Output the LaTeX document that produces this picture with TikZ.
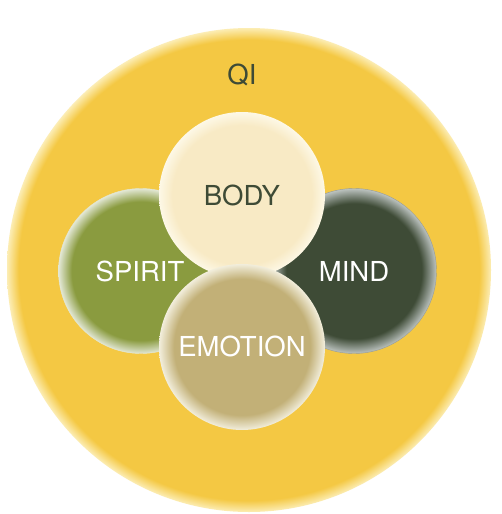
\documentclass[tikz,border=0pt]{standalone}
\usepackage{fontspec}
\setmainfont{TeX Gyre Heros}
\definecolor{qic}{HTML}{F4C843}
\definecolor{qiedge}{HTML}{FCEDB4}
\definecolor{bodyc}{HTML}{F8EAC5}
\definecolor{bodyedge}{HTML}{FDF8E6}
\definecolor{spiritc}{HTML}{8A9B3F}
\definecolor{spiritedge}{HTML}{E2E7D4}
\definecolor{mindc}{HTML}{3E4B36}
\definecolor{mindedge}{HTML}{BCC3C0}
\definecolor{emoc}{HTML}{C2B077}
\definecolor{emoedge}{HTML}{F2EEDC}
\definecolor{darktext}{HTML}{3E4B36}
\pgfdeclareradialshading{qish}{\pgfpoint{0bp}{0bp}}{color(0bp)=(qic); color(23.8bp)=(qic); color(25bp)=(qiedge); color(50bp)=(qiedge)}
\pgfdeclareradialshading{bodysh}{\pgfpoint{0bp}{0bp}}{color(0bp)=(bodyc); color(21bp)=(bodyc); color(25bp)=(bodyedge); color(50bp)=(bodyedge)}
\pgfdeclareradialshading{spiritsh}{\pgfpoint{0bp}{0bp}}{color(0bp)=(spiritc); color(21bp)=(spiritc); color(25bp)=(spiritedge); color(50bp)=(spiritedge)}
\pgfdeclareradialshading{mindsh}{\pgfpoint{0bp}{0bp}}{color(0bp)=(mindc); color(20.5bp)=(mindc); color(25bp)=(mindedge); color(50bp)=(mindedge)}
\pgfdeclareradialshading{emosh}{\pgfpoint{0bp}{0bp}}{color(0bp)=(emoc); color(20.5bp)=(emoc); color(25bp)=(emoedge); color(50bp)=(emoedge)}
\tikzset{
  disc/.style={circle, inner sep=0pt, minimum size=#1},
  lbl/.style={font=\fontsize{27.5}{27.5}\selectfont, inner sep=0pt},
}
\begin{document}
\begin{tikzpicture}[x=1pt,y=-1pt]
\useasboundingbox[fill=white] (0,0) rectangle (501,514);
\node[disc=484pt, shading=qish] (qi) at (249,270) {};
\node[disc=165pt, shading=spiritsh, draw=spiritedge, line width=0.4pt] (spirit) at (141,271) {};
\node[disc=165pt, shading=mindsh, draw=mindedge!80!black, line width=0.4pt] (mind) at (354,271) {};
\node[disc=166pt, shading=bodysh] (body) at (242,195) {};
\node[disc=166pt, shading=emosh] (emotion) at (242,347) {};
\node[lbl, text=darktext] (qit) at (242,75) {QI};
\node[lbl, text=darktext] (bodyt) at (body.center) {BODY};
\node[lbl, text=white] (spiritt) at (140,271) {SPIRIT};
\node[lbl, text=white] (mindt) at (354,271) {MIND};
\node[lbl, text=white] (emot) at (242,346) {EMOTION};
\end{tikzpicture}
\end{document}
